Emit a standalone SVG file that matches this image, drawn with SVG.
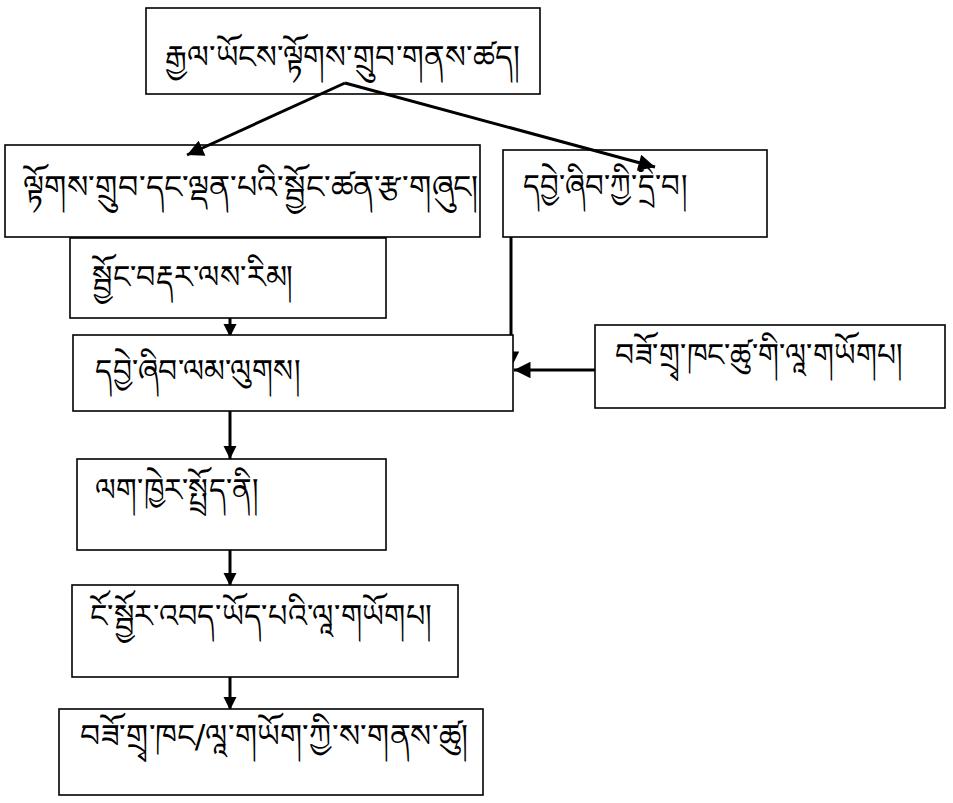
<svg xmlns="http://www.w3.org/2000/svg" width="953" height="803" viewBox="0 0 953 803">
<defs>
<style>
.box{fill:#fff;stroke:#000;stroke-width:1.6}
.t{font-family:"Noto Sans Tibetan","Microsoft Himalaya","DejaVu Sans","Noto Sans",sans-serif;font-size:32px;fill:#000}
.c{stroke:#000;stroke-width:3;fill:none}
</style>
<marker id="ah" viewBox="0 0 10 10" refX="10" refY="5" markerWidth="8" markerHeight="5.5" markerUnits="strokeWidth" orient="auto">
<path d="M0,0 L10,5 L0,10 z" fill="#000"/>
</marker>
<marker id="as" viewBox="0 0 10 10" refX="10" refY="5" markerWidth="4.5" markerHeight="4.5" markerUnits="strokeWidth" orient="auto">
<path d="M0,0 L10,5 L0,10 z" fill="#000"/>
</marker>
</defs>
<rect width="953" height="803" fill="#fff"/>
<g id="connectors">
<path class="c" d="M511,237 L511,368" marker-end="url(#ah)"/>
<path class="c" d="M230,318 L230,337" marker-end="url(#as)"/>
<path class="c" d="M230,411 L230,459" marker-end="url(#as)"/>
<path class="c" d="M230,550 L230,586" marker-end="url(#as)"/>
<path class="c" d="M230,677 L230,710" marker-end="url(#as)"/>
</g>
<g id="n1"><rect class="box" x="146" y="8" width="394" height="86"/><text class="t" x="165" y="68" textLength="355" lengthAdjust="spacingAndGlyphs">རྒྱལ་ཡོངས་ལྟོགས་གྲུབ་གནས་ཚད།</text></g>
<g id="n2"><rect class="box" x="5" y="145" width="475" height="92"/><text class="t" x="23" y="198" textLength="455" lengthAdjust="spacingAndGlyphs">ལྟོགས་གྲུབ་དང་ལྡན་པའི་སྦྱོང་ཚན་རྩ་གཞུང།</text></g>
<g id="n3"><rect class="box" x="503" y="150" width="264" height="87"/><text class="t" x="523" y="197" textLength="164" lengthAdjust="spacingAndGlyphs">དབྱེ་ཞིབ་ཀྱི་དྲི་བ།</text></g>
<g id="n4"><rect class="box" x="70" y="238" width="316" height="80"/><text class="t" x="92" y="288" textLength="201" lengthAdjust="spacingAndGlyphs">སྦྱོང་བརྡར་ལས་རིམ།</text></g>
<g id="n5"><rect class="box" x="73" y="335" width="440" height="76"/><text class="t" x="95" y="382" textLength="205" lengthAdjust="spacingAndGlyphs">དབྱེ་ཞིབ་ལམ་ལུགས།</text></g>
<g id="n6"><rect class="box" x="595" y="325" width="350" height="83"/><text class="t" x="615" y="366" textLength="288" lengthAdjust="spacingAndGlyphs">བཟོ་གྲྭ་ཁང་ཚུ་གི་ལཱ་གཡོགཔ།</text></g>
<g id="n7"><rect class="box" x="77" y="459" width="309" height="91"/><text class="t" x="95" y="501" textLength="163" lengthAdjust="spacingAndGlyphs">ལག་ཁྱེར་སྤྲོད་ནི།</text></g>
<g id="n8"><rect class="box" x="72" y="585" width="386" height="92"/><text class="t" x="90" y="627" textLength="342" lengthAdjust="spacingAndGlyphs">ངོ་སྦྱོར་འབད་ཡོད་པའི་ལཱ་གཡོགཔ།</text></g>
<g id="n9"><rect class="box" x="59" y="709" width="424" height="86"/><text class="t" x="80" y="747" textLength="388" lengthAdjust="spacingAndGlyphs">བཟོ་གྲྭ་ཁང/ལཱ་གཡོག་ཀྱི་ས་གནས་ཚུ།</text></g>
<g id="connectors-top">
<path class="c" d="M345,83 L187,155" marker-end="url(#ah)"/>
<path class="c" d="M345,83 L655,167" marker-end="url(#ah)"/>
<path class="c" d="M595,370 L514,370" marker-end="url(#ah)"/>
</g>
</svg>
